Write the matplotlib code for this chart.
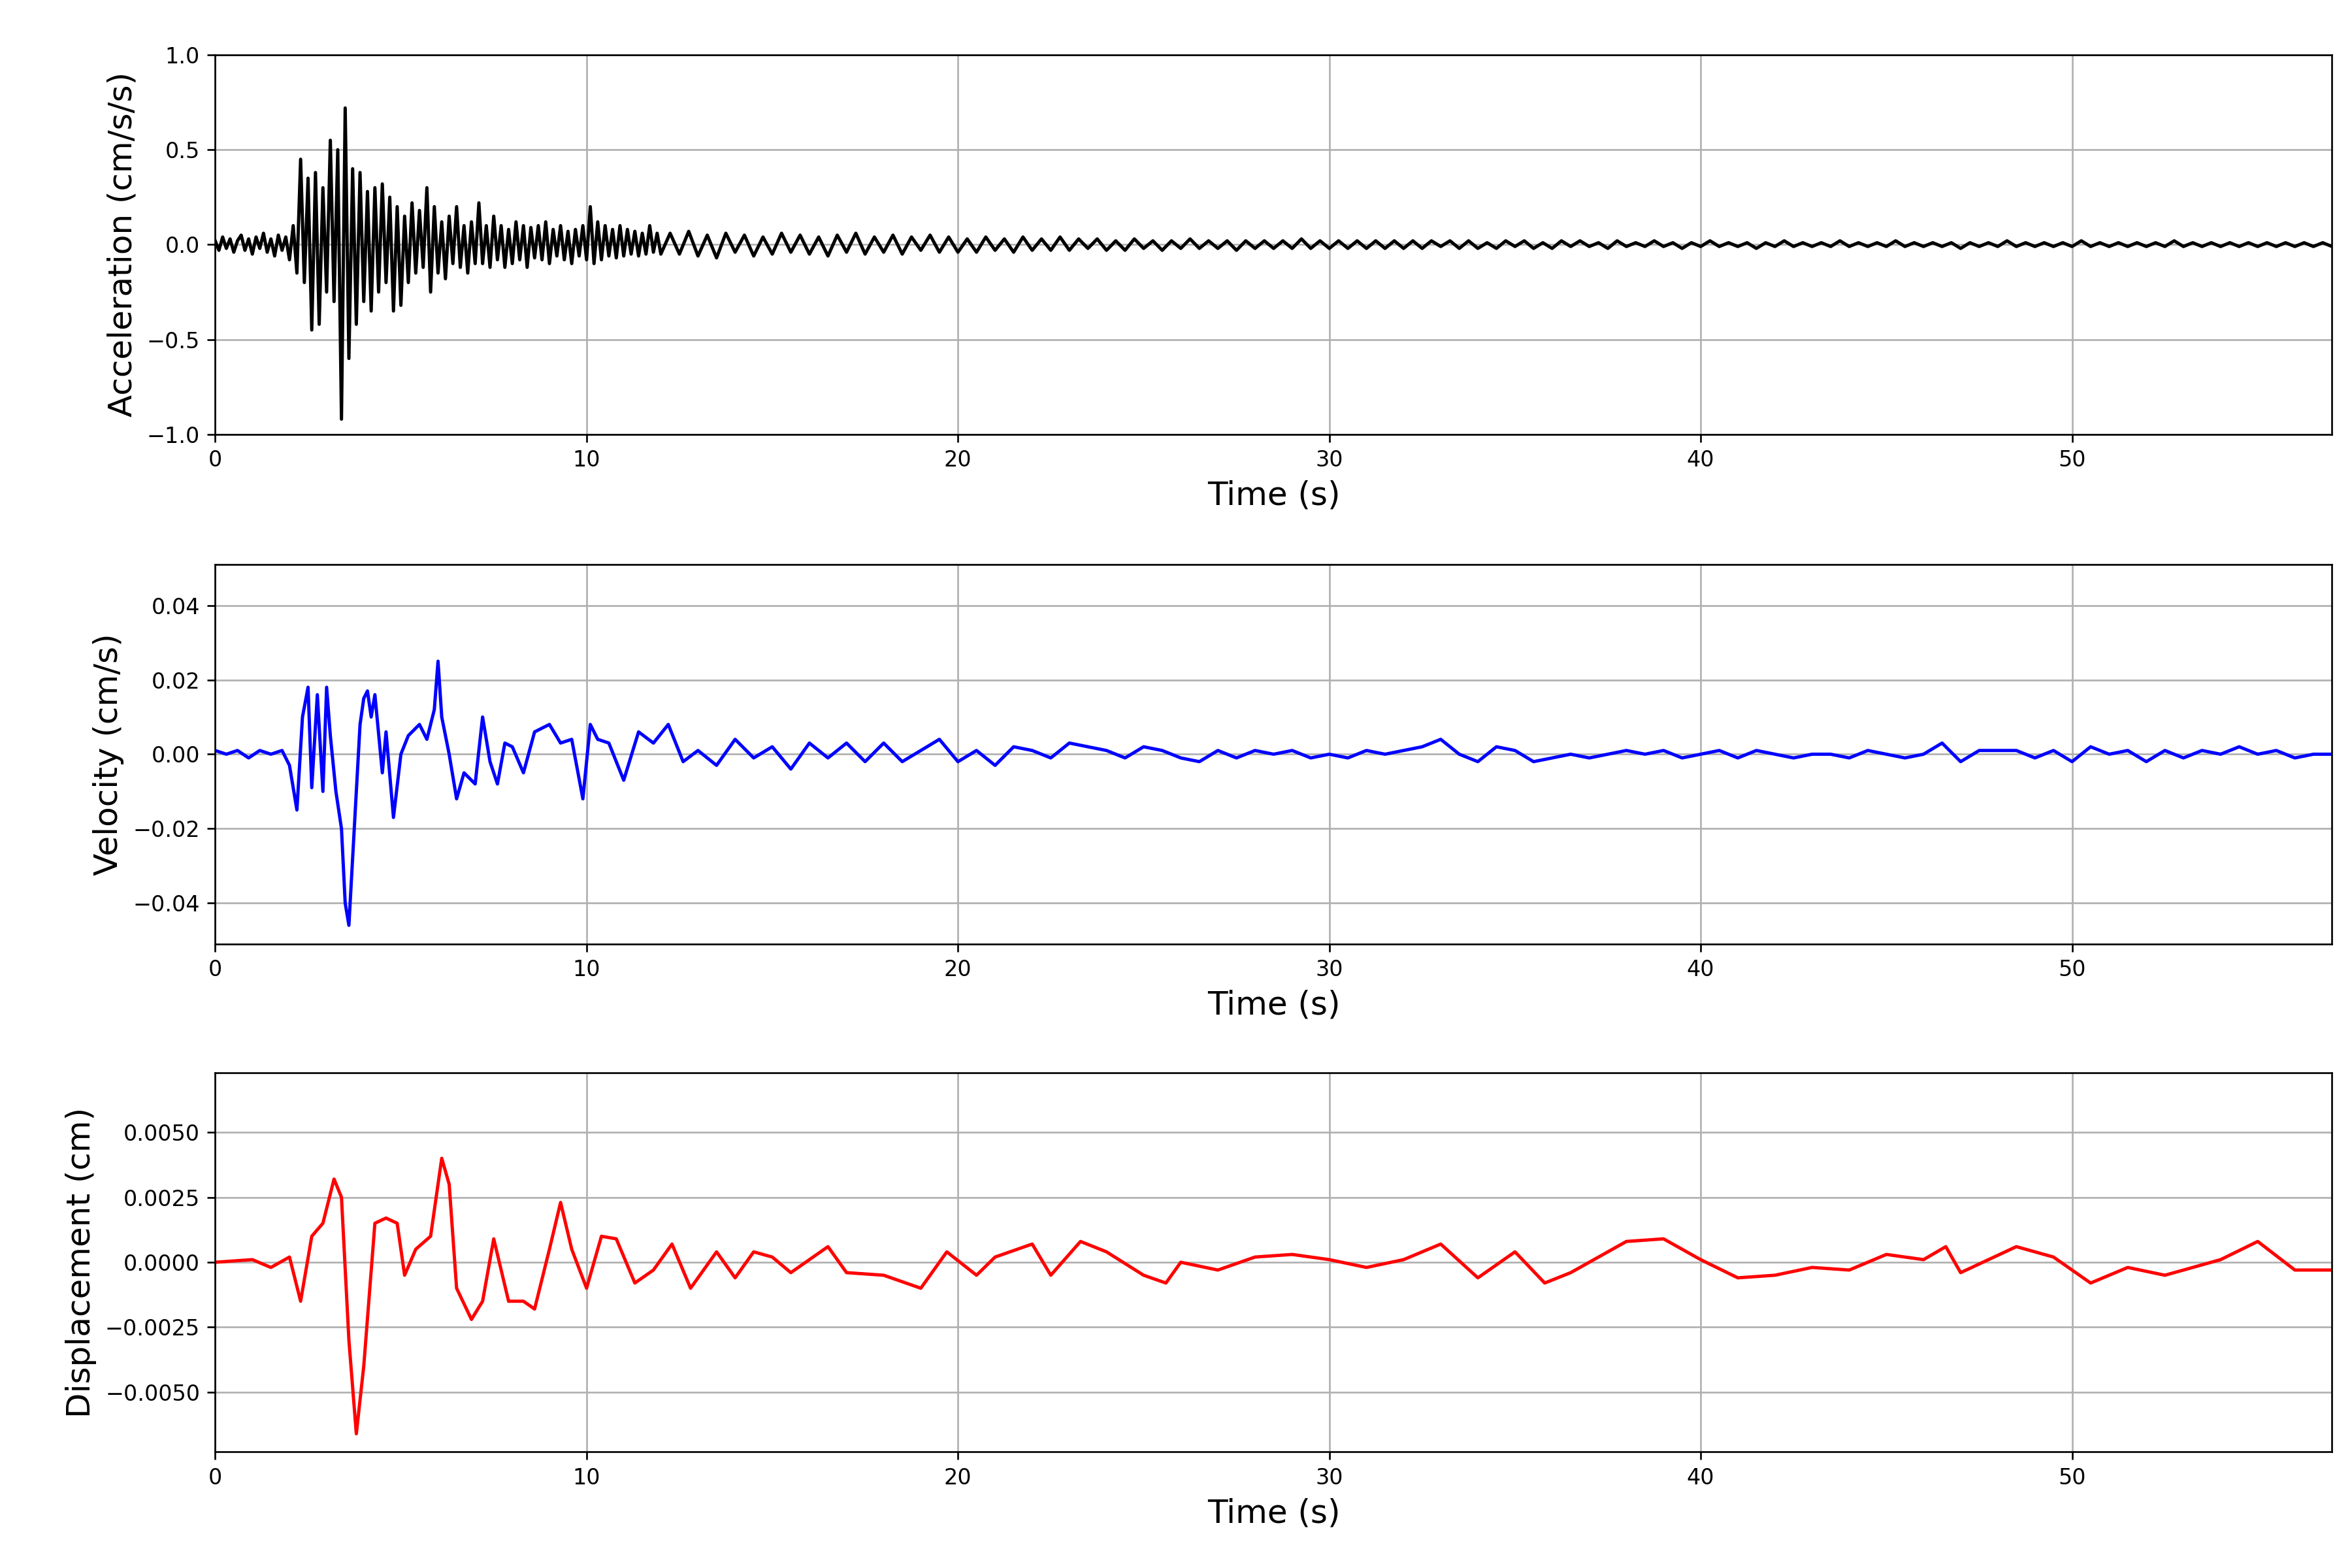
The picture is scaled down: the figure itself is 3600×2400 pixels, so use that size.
import numpy as np
import matplotlib.pyplot as plt

# acceleration, read at 0.1 s for 0-12 s
acc_early = [0.02, -0.03, 0.04, -0.02, 0.03, -0.04, 0.02, 0.05, -0.03, 0.03, -0.05, 0.04, -0.02, 0.06, -0.04, 0.03, -0.06, 0.05, -0.03, 0.04, -0.08,
             0.1, -0.15, 0.45, -0.2, 0.35, -0.45, 0.38, -0.42, 0.3, -0.25,
             0.55, -0.3, 0.5, -0.92, 0.72, -0.6, 0.4, -0.42, 0.38, -0.3,
             0.28, -0.35, 0.3, -0.25, 0.32, -0.2, 0.25, -0.35, 0.2, -0.32,
             0.15, -0.2, 0.22, -0.15, 0.18, -0.12, 0.3, -0.25, 0.2, -0.15,
             0.12, -0.18, 0.15, -0.1, 0.2, -0.12, 0.1, -0.15, 0.12, -0.1,
             0.22, -0.1, 0.1, -0.12, 0.15, -0.08, 0.1, -0.12, 0.08, -0.1,
             0.12, -0.08, 0.1, -0.12, 0.09, -0.07, 0.1, -0.08, 0.12, -0.1,
             0.08, -0.06, 0.1, -0.08, 0.07, -0.1, 0.08, -0.06, 0.1, -0.08,
             0.2, -0.1, 0.12, -0.08, 0.1, -0.06, 0.08, -0.07, 0.1, -0.06,
             0.08, -0.05, 0.07, -0.06, 0.06, -0.05, 0.1, -0.04, 0.06, -0.05]
# acceleration, read at 0.25 s after 12 s
acc_late = [0.06, -0.05, 0.07, -0.06, 0.05, -0.07, 0.06, -0.04, 0.05, -0.06, 0.04, -0.05, 0.06, -0.04, 0.05, -0.05,
            0.04, -0.06, 0.05, -0.04, 0.06, -0.05, 0.04, -0.04, 0.05, -0.05, 0.04, -0.03, 0.05, -0.04, 0.04, -0.04,
            0.03, -0.04, 0.04, -0.03, 0.03, -0.04, 0.04, -0.03, 0.03, -0.03, 0.04, -0.03, 0.03, -0.02, 0.03, -0.03,
            0.02, -0.03, 0.03, -0.02, 0.02, -0.03, 0.02, -0.02, 0.03, -0.02, 0.02, -0.02, 0.02, -0.03, 0.02, -0.02,
            0.02, -0.02, 0.02, -0.02, 0.03, -0.02, 0.02, -0.02, 0.02, -0.02, 0.02, -0.02, 0.02, -0.02, 0.02, -0.02,
            0.02, -0.02, 0.02, -0.01, 0.02, -0.02, 0.02, -0.02, 0.01, -0.02, 0.02, -0.01, 0.02, -0.02, 0.01, -0.02,
            0.02, -0.01, 0.02, -0.01, 0.01, -0.02, 0.02, -0.01, 0.01, -0.01, 0.02, -0.01, 0.01, -0.02, 0.01, -0.01,
            0.02, -0.01, 0.01, -0.01, 0.01, -0.02, 0.01, -0.01, 0.02, -0.01, 0.01, -0.01, 0.01, -0.01, 0.02, -0.01,
            0.01, -0.01, 0.01, -0.01, 0.02, -0.01, 0.01, -0.01, 0.01, -0.01, 0.01, -0.02, 0.01, -0.01, 0.01, -0.01,
            0.02, -0.01, 0.01, -0.01, 0.01, -0.01, 0.01, -0.01, 0.02, -0.01, 0.01, -0.01, 0.01, -0.01, 0.01, -0.01,
            0.01, -0.01, 0.02, -0.01, 0.01, -0.01, 0.01, -0.01, 0.01, -0.01, 0.01, -0.01, 0.01, -0.01, 0.01, -0.01,
            0.01, -0.01, 0.01, -0.01]
acc_t = list(np.round(np.arange(len(acc_early)) * 0.1, 2)) + \
        list(12.0 + 0.25 * (np.arange(len(acc_late)) + 1))
acc = acc_early + acc_late

vel_t = [0, 0.3, 0.6, 0.9, 1.2, 1.5, 1.8, 2.0, 2.2, 2.35, 2.5, 2.6, 2.75, 2.9, 3.0, 3.1, 3.25, 3.4, 3.5, 3.6, 3.7, 3.8, 3.9,
         4.0, 4.1, 4.2, 4.3, 4.5, 4.6, 4.8, 5.0, 5.2, 5.5, 5.7, 5.9, 6.0, 6.1, 6.3, 6.5, 6.7, 7.0, 7.2, 7.4, 7.6, 7.8,
         8.0, 8.3, 8.6, 9.0, 9.3, 9.6, 9.9, 10.1, 10.3, 10.6, 11.0, 11.4, 11.8, 12.2, 12.6, 13.0, 13.5, 14.0, 14.5,
         15.0, 15.5, 16.0, 16.5, 17.0, 17.5, 18.0, 18.5, 19.0, 19.5, 20.0, 20.5, 21.0, 21.5, 22.0, 22.5, 23.0, 23.5,
         24.0, 24.5, 25.0, 25.5, 26.0, 26.5, 27.0, 27.5, 28.0, 28.5, 29.0, 29.5, 30.0, 30.5, 31.0, 31.5, 32.0, 32.5,
         33.0, 33.5, 34.0, 34.5, 35.0, 35.5, 36.0, 36.5, 37.0, 37.5, 38.0, 38.5, 39.0, 39.5, 40.0, 40.5, 41.0, 41.5,
         42.0, 42.5, 43.0, 43.5, 44.0, 44.5, 45.0, 45.5, 46.0, 46.5, 47.0, 47.5, 48.0, 48.5, 49.0, 49.5, 50.0, 50.5,
         51.0, 51.5, 52.0, 52.5, 53.0, 53.5, 54.0, 54.5, 55.0, 55.5, 56.0, 56.5, 57.0]
vel = [0.001, 0.0, 0.001, -0.001, 0.001, 0.0, 0.001, -0.003, -0.015, 0.01, 0.018, -0.009, 0.016, -0.01, 0.018, 0.005, -0.01, -0.02, -0.04, -0.046, -0.028, -0.01, 0.008,
       0.015, 0.017, 0.01, 0.016, -0.005, 0.006, -0.017, 0.0, 0.005, 0.008, 0.004, 0.012, 0.025, 0.01, 0.0, -0.012, -0.005, -0.008, 0.01, -0.002, -0.008, 0.003,
       0.002, -0.005, 0.006, 0.008, 0.003, 0.004, -0.012, 0.008, 0.004, 0.003, -0.007, 0.006, 0.003, 0.008, -0.002, 0.001, -0.003, 0.004, -0.001,
       0.002, -0.004, 0.003, -0.001, 0.003, -0.002, 0.003, -0.002, 0.001, 0.004, -0.002, 0.001, -0.003, 0.002, 0.001, -0.001, 0.003, 0.002,
       0.001, -0.001, 0.002, 0.001, -0.001, -0.002, 0.001, -0.001, 0.001, 0.0, 0.001, -0.001, 0.0, -0.001, 0.001, 0.0, 0.001, 0.002,
       0.004, 0.0, -0.002, 0.002, 0.001, -0.002, -0.001, 0.0, -0.001, 0.0, 0.001, 0.0, 0.001, -0.001, 0.0, 0.001, -0.001, 0.001,
       0.0, -0.001, 0.0, 0.0, -0.001, 0.001, 0.0, -0.001, 0.0, 0.003, -0.002, 0.001, 0.001, 0.001, -0.001, 0.001, -0.002, 0.002,
       0.0, 0.001, -0.002, 0.001, -0.001, 0.001, 0.0, 0.002, 0.0, 0.001, -0.001, 0.0, 0.0]

disp_t = [0, 1, 1.5, 2.0, 2.3, 2.6, 2.9, 3.2, 3.4, 3.6, 3.8, 4.0, 4.3, 4.6, 4.9, 5.1, 5.4, 5.8, 6.1, 6.3, 6.5, 6.9, 7.2, 7.5,
          7.9, 8.3, 8.6, 9.0, 9.3, 9.6, 10.0, 10.4, 10.8, 11.3, 11.8, 12.3, 12.8, 13.5, 14, 14.5, 15, 15.5, 16.5, 17, 18,
          19, 19.7, 20.5, 21, 22, 22.5, 23.3, 24, 25, 25.6, 26, 27, 28, 29, 30, 31, 32, 33, 34, 35, 35.8, 36.5, 38, 39,
          40, 41, 42, 43, 44, 45, 46, 46.6, 47, 48.5, 49.5, 50.5, 51.5, 52.5, 54, 55, 56, 57]
disp = [0, 0.0001, -0.0002, 0.0002, -0.0015, 0.001, 0.0015, 0.0032, 0.0025, -0.003, -0.0066, -0.004, 0.0015, 0.0017, 0.0015,
        -0.0005, 0.0005, 0.001, 0.004, 0.003, -0.001, -0.0022, -0.0015, 0.0009, -0.0015, -0.0015, -0.0018, 0.0005, 0.0023,
        0.0005, -0.001, 0.001, 0.0009, -0.0008, -0.0003, 0.0007, -0.001, 0.0004, -0.0006, 0.0004, 0.0002, -0.0004, 0.0006,
        -0.0004, -0.0005, -0.001, 0.0004, -0.0005, 0.0002, 0.0007, -0.0005, 0.0008, 0.0004, -0.0005, -0.0008, 0, -0.0003,
        0.0002, 0.0003, 0.0001, -0.0002, 0.0001, 0.0007, -0.0006, 0.0004, -0.0008, -0.0004, 0.0008, 0.0009, 0.0001, -0.0006,
        -0.0005, -0.0002, -0.0003, 0.0003, 0.0001, 0.0006, -0.0004, 0.0006, 0.0002, -0.0008, -0.0002, -0.0005, 0.0001,
        0.0008, -0.0003, -0.0003]

fig = plt.figure(figsize=(15, 10), dpi=240)
specs = [(acc_t, acc, 'k', 'Acceleration (cm/s/s)', (-1, 1), np.arange(-1, 1.01, 0.5), '%.1f', 0.723),
         (vel_t, vel, 'b', 'Velocity (cm/s)', (-0.051, 0.051), np.arange(-0.04, 0.041, 0.02), '%.2f', 0.398),
         (disp_t, disp, 'r', 'Displacement (cm)', (-0.0073, 0.0073), np.arange(-0.005, 0.0051, 0.0025), '%.4f', 0.074)]
for t, y, c, lab, yl, ticks, fmt, b in specs:
    ax = fig.add_axes([0.0915, b, 0.9, 0.242])
    ax.plot(t, y, color=c, lw=1.5)
    ax.set_xlim(0, 57)
    ax.set_ylim(*yl)
    ax.set_yticks(ticks)
    ax.set_yticklabels([(fmt % v).replace('-', '\u2212') for v in ticks])
    ax.grid(True)
    ax.set_xlabel('Time (s)', fontsize=15)
    ax.set_ylabel(lab, fontsize=15)
fig.savefig('out.png', dpi=240)
